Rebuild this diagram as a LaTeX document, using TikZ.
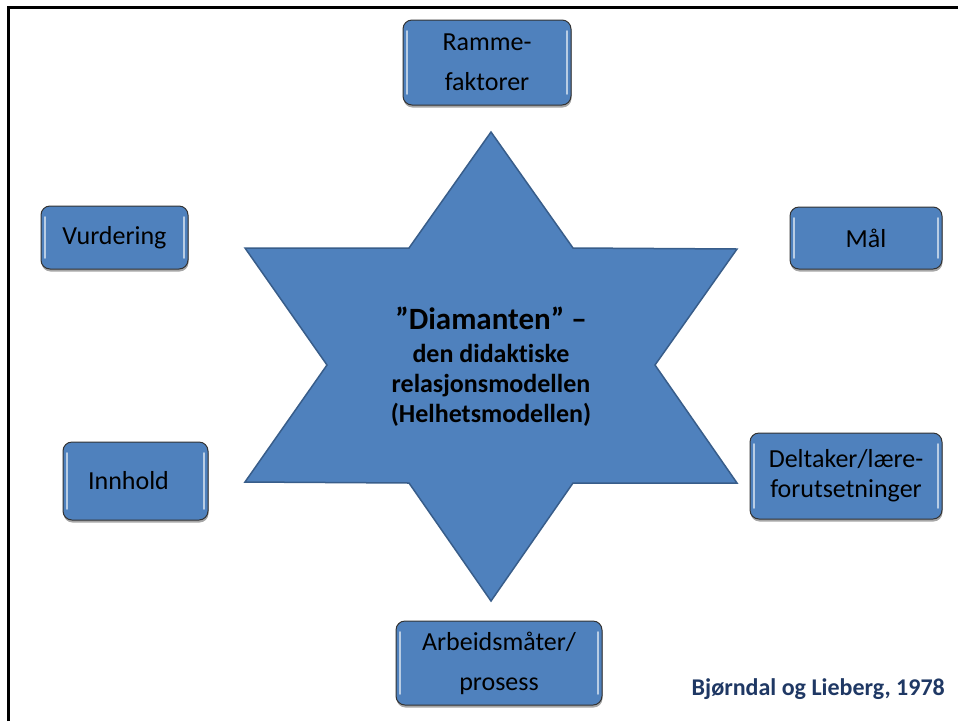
\documentclass[tikz,border=0pt]{standalone}
\usepackage{fontspec}
\setmainfont{Carlito}[RawFeature={-liga,-clig,-dlig}]
\usetikzlibrary{shadows, calc}
\definecolor{boxblue}{HTML}{4F81BD}
\definecolor{staredge}{HTML}{385D8A}
\definecolor{kildeblue}{HTML}{1F3864}
\tikzset{
x=1pt, y=-1pt, % pixel units, y counts downwards
frame/.style={line width=3pt, black}, % the slide edge on the left and on top
star/.style={fill=boxblue, draw=staredge, line width=1.5pt, line join=miter}, % the six-pointed star
faktor/.style={draw=black!80, line width=1pt, fill=boxblue, rounded corners=9pt,
  align=center, inner sep=0pt, font=\fontsize{26}{30}\selectfont,
  drop shadow={shadow xshift=0.5pt, shadow yshift=-2.5pt, opacity=.35, fill=black},
  path picture={
    \draw[white!60!boxblue, line width=1.6pt, line cap=round]
      ($(path picture bounding box.north west)+(4,11)$) -- ($(path picture bounding box.south west)+(4,-11)$)
      ($(path picture bounding box.north east)+(-4,11)$) -- ($(path picture bounding box.south east)+(-4,-11)$);
  }}, % the rounded boxes round the star
}

\begin{document}
\begin{tikzpicture}
  \useasboundingbox (0,0) rectangle (958,721);
  \draw[frame] (8,721) -- (8,7) -- (958,7);

  % star
  \draw[star] (491,132) -- (573,248) -- (737,249) -- (655,365) -- (737,483) -- (573,483)
    -- (491,601) -- (409,483) -- (245,482) -- (327,365) -- (245,248) -- (409,248) -- cycle;
  \node[align=center, font=\bfseries\fontsize{26}{30}\selectfont] (diamanten) at (491,367)
    {{\fontsize{31}{31}\selectfont ”Diamanten” –}\\[3pt] den didaktiske\\ relasjonsmodellen\\ (Helhetsmodellen)};

  % boxes
  \node[faktor, minimum width=168, minimum height=85] (rammefaktorer) at (487,62.5) {Ramme-\\[10pt]faktorer};
  \node[faktor, minimum width=152, minimum height=62] (maal) at (866,238) {Mål};
  \node[faktor, minimum width=147, minimum height=63] (vurdering) at (114.5,237.5) {Vurdering};
  \node[faktor, minimum width=145, minimum height=78] (innhold) at (135.5,481) {Innhold\hspace{14pt}};
  \node[faktor, minimum width=192, minimum height=86] (deltaker) at (846,476) {Deltaker/lære-\\forutsetninger};
  \node[faktor, minimum width=206, minimum height=84] (arbeidsmaater) at (499,663) {Arbeidsmåter/\\[10pt]prosess};

  \node[anchor=base east, inner sep=0pt, text=kildeblue, font=\bfseries\fontsize{24}{24}\selectfont] (kilde) at (945,695)
    {Bjørndal og Lieberg, 1978};
\end{tikzpicture}
\end{document}
